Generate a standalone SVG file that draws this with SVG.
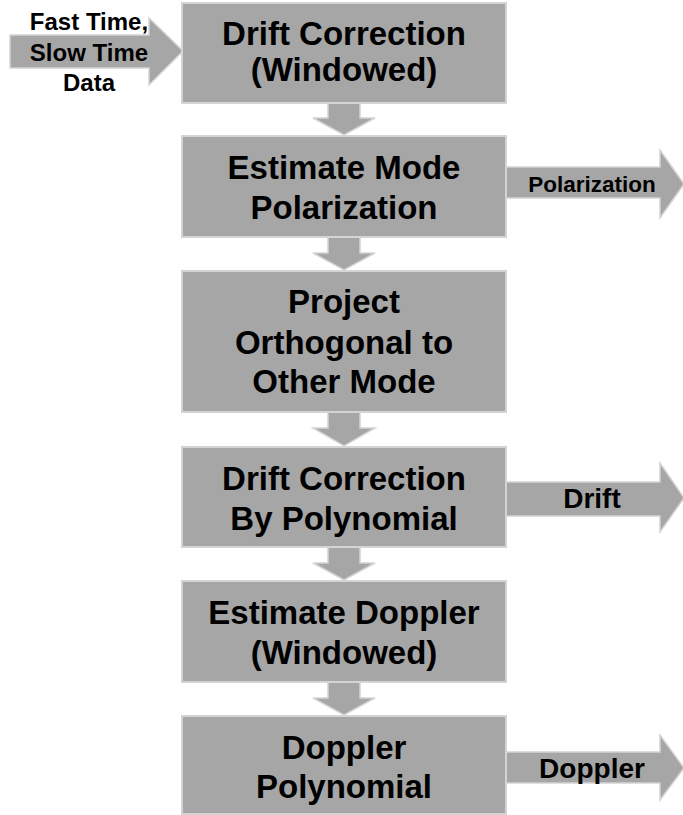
<svg xmlns="http://www.w3.org/2000/svg" width="683" height="815" viewBox="0 0 683 815">
  <style>
    .box { fill: #a6a6a6; stroke: #d4d4d4; stroke-width: 2; }
    .arr { fill: #a6a6a6; stroke: #d4d4d4; stroke-width: 1.5; stroke-linejoin: miter; }
    .t { font-family: "Liberation Sans", Arial, sans-serif; font-weight: bold; fill: #000; text-anchor: middle; }
    .big { font-size: 33px; }
    .mid { font-size: 28px; }
  </style>
  <rect width="683" height="815" fill="#fff"/>

  <g id="connectors">
    <!-- input arrow -->
    <g id="in-arrow">
      <polygon class="arr" points="10,35 149,35 149,18 183,51 149,85 149,68 10,68"/>
      <text class="t" x="89" y="30" font-size="24">Fast Time,</text>
      <text class="t" x="89" y="61" font-size="24">Slow Time</text>
      <text class="t" x="89" y="91" font-size="24">Data</text>
    </g>
    <!-- down arrows between steps -->
    <polygon class="arr" points="328,103 360,103 360,118 375,118 344,135 313,118 328,118"/>
    <polygon class="arr" points="328,237 360,237 360,253 375,253 344,270 313,253 328,253"/>
    <polygon class="arr" points="328,412 360,412 360,428 375,428 344,446 313,428 328,428"/>
    <polygon class="arr" points="328,547 360,547 360,563 375,563 344,580 313,563 328,563"/>
    <polygon class="arr" points="328,682 360,682 360,698 375,698 344,715 313,698 328,698"/>
    <!-- output arrows -->
    <g id="out-polarization">
      <polygon class="arr" points="506,167 660,167 660,150 684,184 660,218 660,198 506,198"/>
      <text class="t" x="592" y="192" font-size="22.5">Polarization</text>
    </g>
    <g id="out-drift">
      <polygon class="arr" points="506,482 660,482 660,463 684,498 660,532 660,516 506,516"/>
      <text class="t mid" x="592" y="508">Drift</text>
    </g>
    <g id="out-doppler">
      <polygon class="arr" points="506,752 660,752 660,735 684,768 660,800 660,783 506,783"/>
      <text class="t mid" x="592" y="778">Doppler</text>
    </g>
  </g>

  <g id="drift-windowed">
    <rect class="box" x="182" y="3" width="324" height="100"/>
    <text class="t big" x="344" y="45">Drift Correction</text>
    <text class="t big" x="344" y="81">(Windowed)</text>
  </g>
  <g id="estimate-polarization">
    <rect class="box" x="182" y="136" width="324" height="101"/>
    <text class="t big" x="344" y="179">Estimate Mode</text>
    <text class="t big" x="344" y="219">Polarization</text>
  </g>
  <g id="project-orthogonal">
    <rect class="box" x="182" y="271" width="324" height="141"/>
    <text class="t big" x="344" y="313">Project</text>
    <text class="t big" x="344" y="354">Orthogonal to</text>
    <text class="t big" x="344" y="393">Other Mode</text>
  </g>
  <g id="drift-polynomial">
    <rect class="box" x="182" y="447" width="324" height="100"/>
    <text class="t big" x="344" y="490">Drift Correction</text>
    <text class="t big" x="344" y="530">By Polynomial</text>
  </g>
  <g id="estimate-doppler">
    <rect class="box" x="182" y="581" width="324" height="101"/>
    <text class="t big" x="344" y="624">Estimate Doppler</text>
    <text class="t big" x="344" y="664">(Windowed)</text>
  </g>
  <g id="doppler-polynomial">
    <rect class="box" x="182" y="716" width="324" height="98"/>
    <text class="t big" x="344" y="759">Doppler</text>
    <text class="t big" x="344" y="798">Polynomial</text>
  </g>
</svg>
